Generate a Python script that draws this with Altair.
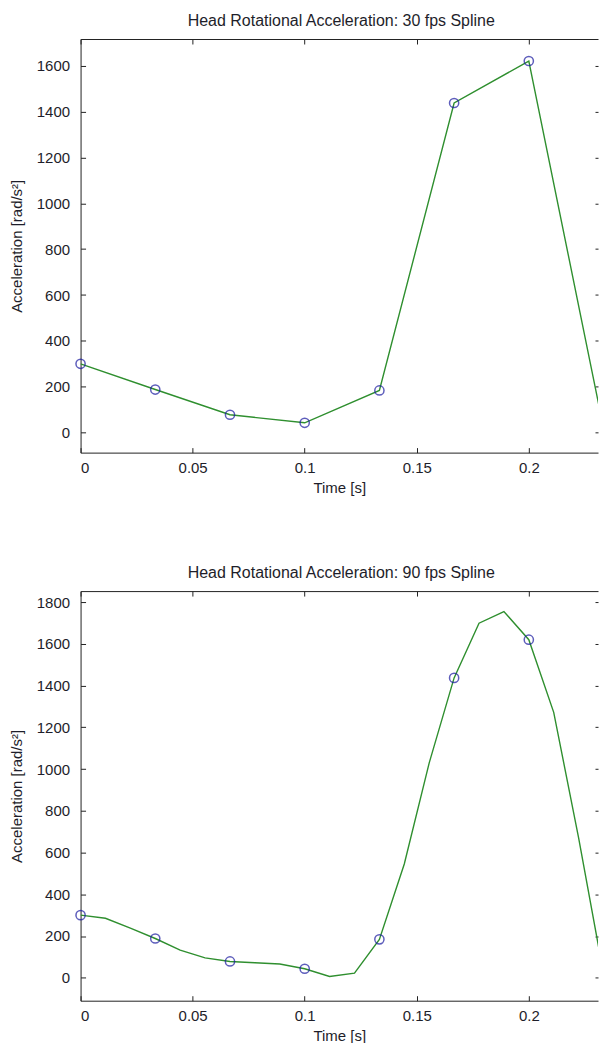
import altair as alt
import pandas as pd

# ---------------- data ----------------
t30 = [0.0, 0.03333, 0.06667, 0.1, 0.13333, 0.16667, 0.2, 0.23333]
acc30 = [300, 188, 78, 43, 184, 1437, 1620, 20]

t90 = [0.0, 0.01111, 0.02222, 0.03333, 0.04444, 0.05556, 0.06667, 0.07778,
       0.08889, 0.1, 0.11111, 0.12222, 0.13333, 0.14444, 0.15556, 0.16667,
       0.17778, 0.18889, 0.2, 0.21111, 0.22222, 0.23333]
acc90 = [300, 285, 238, 188, 132, 95, 78, 72,
         66, 43, 6, 22, 184, 545, 1030, 1437,
         1699, 1755, 1620, 1272, 670, 20]

x_ticks = [0, 0.05, 0.1, 0.15, 0.2]
y_ticks_top = [0, 200, 400, 600, 800, 1000, 1200, 1400, 1600]
y_ticks_bot = [0, 200, 400, 600, 800, 1000, 1200, 1400, 1600, 1800]

titles = ["Head Rotational Acceleration: 30 fps Spline",
          "Head Rotational Acceleration: 90 fps Spline"]

FONT = "Liberation Sans"
TXT = "#1e1e2a"
AX = "#222222"
GREEN = "#2f8f2f"
BLUE = "#1a1aa0"
PLOT_W = 518.3
X_MAX = 0.23087   # the right part of the axes box is cut off by the picture edge


def panel(title, line_df, pts_df, ydom, yticks, height):
    xs = alt.Scale(domain=[0, X_MAX], nice=False, zero=False)
    ys = alt.Scale(domain=ydom, nice=False, zero=False)

    lab_x = alt.Axis(orient="bottom", values=x_ticks, format="~g", domain=True,
                     domainColor=AX, domainWidth=1,
                     ticks=False, tickSize=0, grid=False, labelPadding=8,
                     labelFont=FONT, labelFontSize=15, labelColor=TXT,
                     title="Time [s]", titleFont=FONT, titleFontSize=15,
                     titleFontWeight="normal", titleColor=TXT, titlePadding=5)
    lab_y = alt.Axis(orient="left", values=yticks, format="d", domain=True,
                     domainColor=AX, domainWidth=1,
                     ticks=False, tickSize=0, grid=False, labelPadding=11,
                     labelFont=FONT, labelFontSize=15, labelColor=TXT,
                     title="Acceleration [rad/s²]", titleFont=FONT,
                     titleFontSize=15, titleFontWeight="normal",
                     titleColor=TXT, titlePadding=12)

    def tick_axis(orient, vals, size=5):
        return alt.Axis(orient=orient, values=vals, offset=-size, tickSize=size,
                        ticks=True, tickColor=AX, tickWidth=1,
                        labels=False, domain=False, grid=False, title=None)

    top_border = alt.Axis(orient="top", values=x_ticks, domain=True,
                          domainColor=AX, domainWidth=1, ticks=False,
                          tickSize=0, labels=False, grid=False, title=None)

    line = alt.Chart(line_df).mark_line(color=GREEN, strokeWidth=1.4, clip=True).encode(
        x=alt.X("t:Q", scale=xs, axis=lab_x),
        y=alt.Y("a:Q", scale=ys, axis=lab_y),
    )
    pts = alt.Chart(pts_df).transform_filter(
        alt.datum.t <= X_MAX
    ).mark_point(shape="circle", filled=False, size=85,
                 strokeWidth=1.5, color=BLUE).encode(
        x=alt.X("t:Q", scale=xs, axis=tick_axis("bottom", x_ticks)),
        y=alt.Y("a:Q", scale=ys, axis=tick_axis("left", yticks)),
    )
    pts_cut = alt.Chart(pts_df).transform_filter(
        alt.datum.t > X_MAX
    ).mark_point(shape="circle", filled=False, size=85,
                 strokeWidth=1.5, color=BLUE, clip=True).encode(
        x=alt.X("t:Q", scale=xs, axis=tick_axis("top", x_ticks)),
        y=alt.Y("a:Q", scale=ys, axis=tick_axis("right", yticks, 3)),
    )
    ghost = alt.Chart(pts_df).mark_point(opacity=0, clip=True).encode(
        x=alt.X("t:Q", scale=xs, axis=top_border),
        y=alt.Y("a:Q", scale=ys, axis=None),
    )
    return alt.layer(line, pts, pts_cut, ghost).resolve_axis(
        x="independent", y="independent"
    ).properties(
        width=PLOT_W, height=height,
        title=alt.TitleParams(title, font=FONT, fontSize=16, fontWeight="normal",
                              color=TXT, anchor="middle", offset=10, dx=2),
    )


pts_df = pd.DataFrame({"t": t30, "a": acc30})
top = panel(titles[0], pd.DataFrame({"t": t30, "a": acc30}), pts_df,
            [-87, 1716], y_ticks_top, 414.3)
bot = panel(titles[1], pd.DataFrame({"t": t90, "a": acc90}), pts_df,
            [-110, 1853], y_ticks_bot, 410.3)

chart = alt.vconcat(top, bot, spacing=68).properties(
    padding={"left": 8.7, "top": 11.2, "right": 0, "bottom": 0},
    background="white",
).configure_view(stroke=None)

chart.save("out.html", embed_options={"renderer": "svg", "actions": False})
